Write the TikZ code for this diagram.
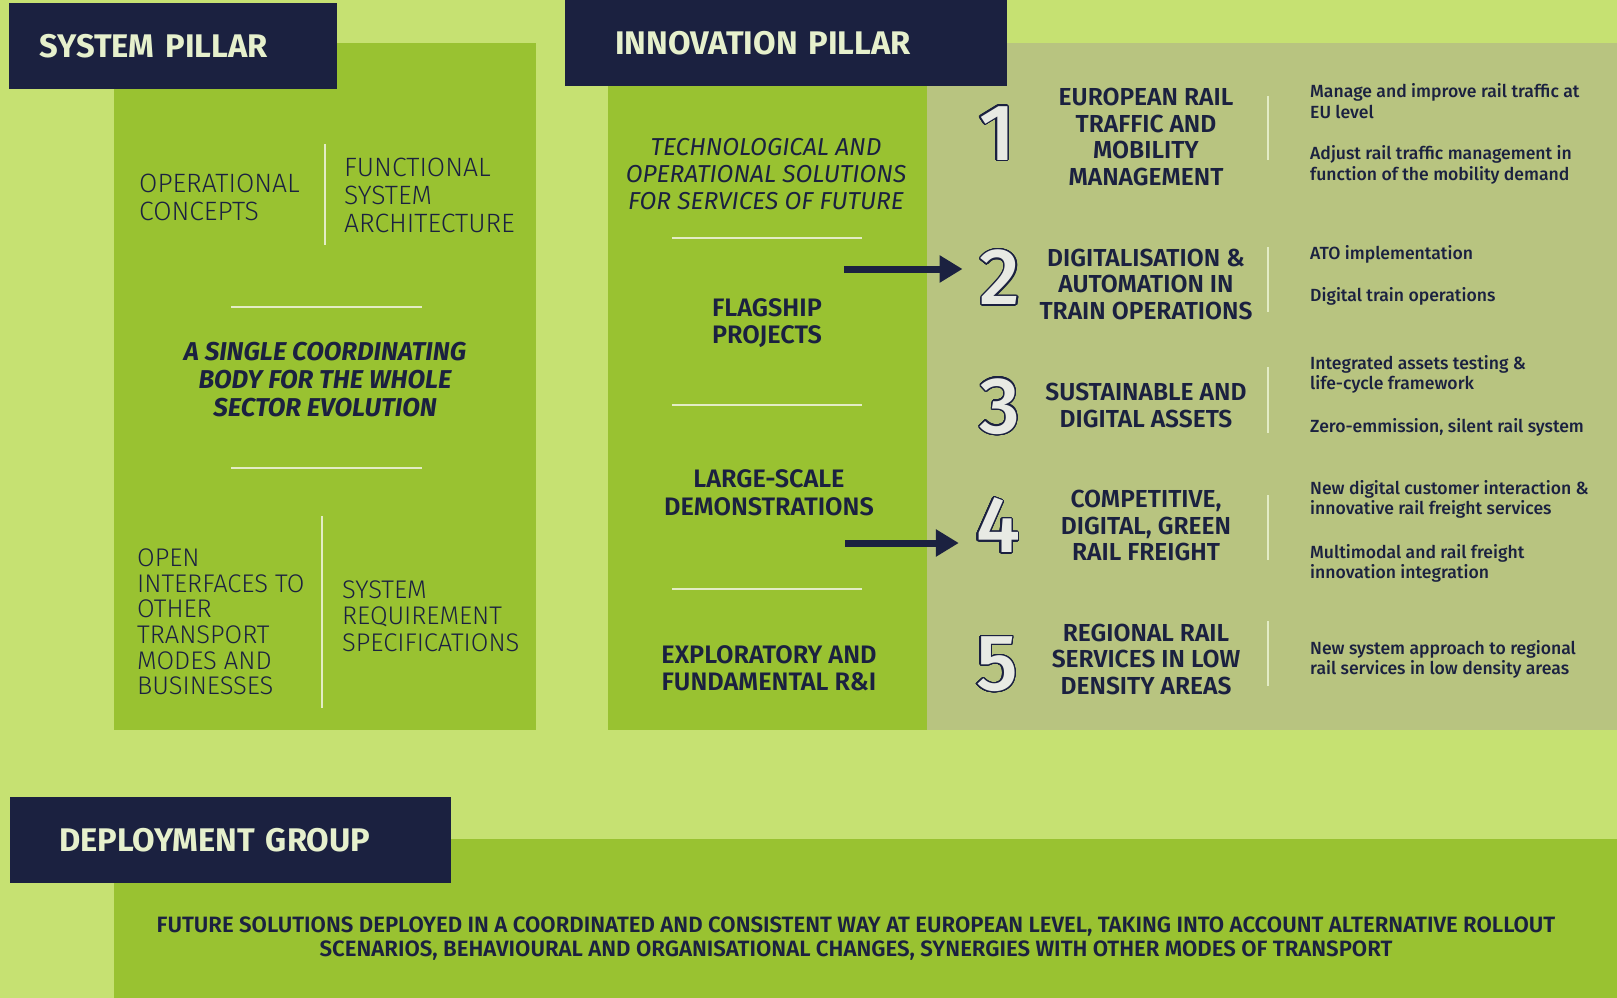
\documentclass[tikz,border=0pt]{standalone}
\usepackage{fontspec}
\setmainfont{Fira Sans}
\newfontfamily\lightfont{Fira Sans Light}
\newfontfamily\medfont{Fira Sans Medium}
\newfontfamily\semifont{Fira Sans SemiBold}
\usepackage{contour}
\contourlength{1.3pt}
\contournumber{32}
\usetikzlibrary{arrows.meta}

\definecolor{bglight}{HTML}{C6E172}
\definecolor{midgreen}{HTML}{99C231}
\definecolor{sage}{HTML}{B8C480}
\definecolor{navy}{HTML}{1B2140}
\definecolor{pale}{HTML}{E6F0CC}
\definecolor{sepline}{HTML}{E3ECC6}
\definecolor{numfill}{HTML}{E8EAE4}

\begin{document}
\begin{tikzpicture}[x=1pt, y=-1pt, >={Triangle[length=23pt, width=26pt]},
    header/.style={fill=navy, text=pale, anchor=north west, align=left, minimum height=86pt,
      font=\bfseries\fontsize{32.7}{33}\selectfont},
    thin/.style={text=navy, align=left, anchor=west, inner sep=0pt, font=\lightfont\fontsize{26.5}{28}\selectfont},
    claim/.style={text=navy, align=center, inner sep=0pt, font=\bfseries\itshape\fontsize{25.8}{28}\selectfont},
    stage/.style={text=navy, align=center, inner sep=0pt, font=\semifont\fontsize{25.3}{27.5}\selectfont},
    num/.style={inner sep=0pt, font=\medfont\fontsize{80}{80}\selectfont},
    topic/.style={text=navy, align=center, inner sep=0pt, font=\semifont\fontsize{24.6}{26.5}\selectfont},
    detail/.style={text=navy, align=left, anchor=west, inner sep=0pt, font=\medfont\fontsize{17.6}{20.6}\selectfont},
    sep/.style={draw=sepline, line width=1.5pt},
    flow/.style={->, draw=navy, line width=7pt}]

    \useasboundingbox (0,0) rectangle (1617,998);
    \fill[bglight] (0,0) rectangle (1617,998);
    \fill[midgreen] (114,43) rectangle (536,730);
    \fill[midgreen] (608,86) rectangle (927,730);
    \fill[sage] (927,43) rectangle (1617,730);
    \fill[midgreen] (114,839) rectangle (1617,998);

    \node[header, text width=268pt, inner xsep=30pt] (sysp) at (9,3) {SYSTEM PILLAR};
    \node[header, text width=342pt, inner xsep=50pt] (innop) at (565,0) {INNOVATION PILLAR};
    \node[header, text width=343pt, inner xsep=49pt] (deplg) at (10,797) {DEPLOYMENT GROUP};

    % system pillar
    \node[thin] (opc) at (139,197.5) {OPERATIONAL\\CONCEPTS};
    \node[thin] (fsa) at (344,195) {FUNCTIONAL\\SYSTEM\\ARCHITECTURE};
    \draw[sep] (325,144) -- (325,245);
    \draw[sep] (231,307) -- (422,307);
    \node[claim] (body) at (325,380) {A SINGLE COORDINATING\\BODY FOR THE WHOLE\\SECTOR EVOLUTION};
    \draw[sep] (231,468) -- (422,468);
    \draw[sep] (322,516) -- (322,708);
    \node[thin, font=\lightfont\fontsize{25.5}{25.6}\selectfont] (oit) at (137,622)
      {OPEN\\INTERFACES TO\\OTHER\\TRANSPORT\\MODES AND\\BUSINESSES};
    \node[thin, font=\lightfont\fontsize{25.5}{26.5}\selectfont] (srs) at (342,616)
      {SYSTEM\\REQUIREMENT\\SPECIFICATIONS};

    % innovation pillar
    \node[text=navy, align=center, inner sep=0pt, font=\itshape\fontsize{24.5}{27}\selectfont] (tos) at (766,174)
      {TECHNOLOGICAL AND\\OPERATIONAL SOLUTIONS\\FOR SERVICES OF FUTURE};
    \draw[sep] (672,238) -- (862,238);
    \node[stage] (flag) at (767,323) {FLAGSHIP\\PROJECTS};
    \draw[sep] (672,405) -- (862,405);
    \node[stage] (lsd) at (769,492.5) {LARGE-SCALE\\DEMONSTRATIONS};
    \draw[sep] (672,589) -- (862,589);
    \node[stage] (expl) at (769,668) {EXPLORATORY AND\\FUNDAMENTAL R\&I};

    \node[num] (n1) at (997,134) {\contour{navy}{\textcolor{numfill}{1}}};
    \node[num] (n2) at (1000,278) {\contour{navy}{\textcolor{numfill}{2}}};
    \node[num] (n3) at (1000,407) {\contour{navy}{\textcolor{numfill}{3}}};
    \node[num] (n4) at (998,526) {\contour{navy}{\textcolor{numfill}{4}}};
    \node[num] (n5) at (997,665) {\contour{navy}{\textcolor{numfill}{5}}};

    \coordinate (a1) at (844,269);
    \coordinate (a2) at (845,543);
    \draw[flow, shorten >=17pt] (a1) -- (a1 -| n2.west);
    \draw[flow, shorten >=17pt] (a2) -- (a2 -| n4.west);

    \node[topic] (t1) at (1146,137) {EUROPEAN RAIL\\TRAFFIC AND\\MOBILITY\\MANAGEMENT};
    \node[topic] (t2) at (1146,284) {DIGITALISATION \&\\AUTOMATION IN\\TRAIN OPERATIONS};
    \node[topic] (t3) at (1146,405.5) {SUSTAINABLE AND\\DIGITAL ASSETS};
    \node[topic] (t4) at (1146,525.5) {COMPETITIVE,\\DIGITAL, GREEN\\RAIL FREIGHT};
    \node[topic] (t5) at (1146,659) {REGIONAL RAIL\\SERVICES IN LOW\\DENSITY AREAS};

    \draw[sep] (1268,96) -- (1268,160);
    \draw[sep] (1268,247) -- (1268,312);
    \draw[sep] (1268,367) -- (1268,433);
    \draw[sep] (1268,495) -- (1268,560);
    \draw[sep] (1268,621) -- (1268,686);

    \node[detail] (d1a) at (1310,101) {Manage and improve rail traffic at\\EU level};
    \node[detail] (d1b) at (1310,165) {Adjust rail traffic management in\\function of the mobility demand};
    \node[detail] (d2a) at (1310,254) {ATO implementation};
    \node[detail] (d2b) at (1310,296) {Digital train operations};
    \node[detail] (d3a) at (1310,374.5) {Integrated assets testing \&\\life-cycle framework};
    \node[detail] (d3b) at (1310,427) {Zero-emmission, silent rail system};
    \node[detail] (d4a) at (1310,499.5) {New digital customer interaction \&\\innovative rail freight services};
    \node[detail] (d4b) at (1310,563.5) {Multimodal and rail freight\\innovation integration};
    \node[detail] (d5) at (1310,659.5) {New system approach to regional\\rail services in low density areas};

    % deployment group
    \node[text=navy, align=center, inner sep=0pt, font=\semifont\fontsize{22.2}{24}\selectfont] (fsd) at (856,939)
      {FUTURE SOLUTIONS DEPLOYED IN A COORDINATED AND CONSISTENT WAY AT EUROPEAN LEVEL, TAKING INTO ACCOUNT ALTERNATIVE ROLLOUT\\
       SCENARIOS, BEHAVIOURAL AND ORGANISATIONAL CHANGES, SYNERGIES WITH OTHER MODES OF TRANSPORT};
\end{tikzpicture}
\end{document}
